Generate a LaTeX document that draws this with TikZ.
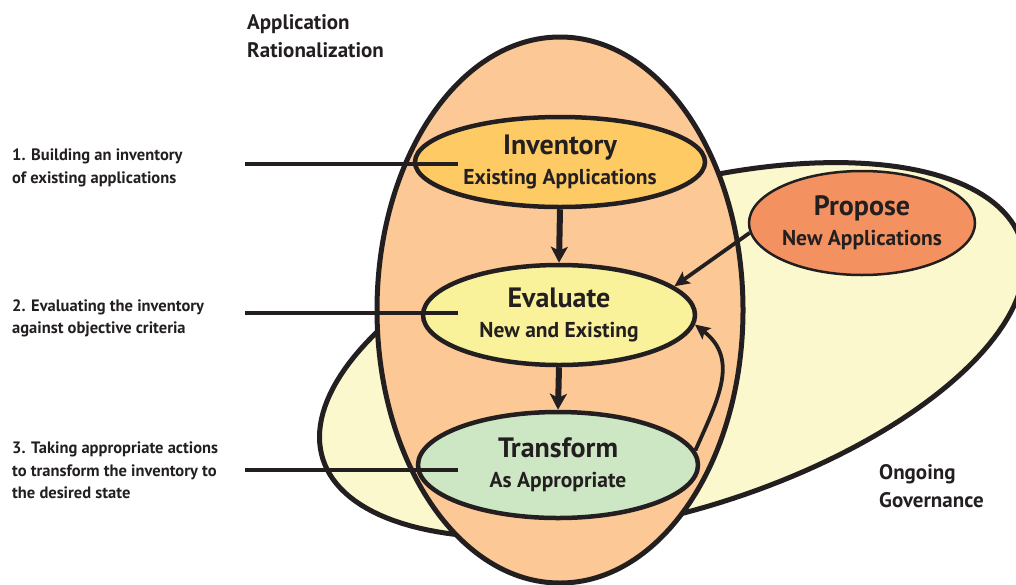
\documentclass[tikz,border=0pt]{standalone}
\usepackage{fontspec}
\setmainfont{PT Sans}
\usetikzlibrary{shapes.geometric,arrows.meta}
\definecolor{linec}{RGB}{35,31,32}
\definecolor{textc}{RGB}{35,31,32}
\definecolor{ratfill}{RGB}{252,201,150}
\definecolor{govfill}{RGB}{251,248,206}
\definecolor{invfill}{RGB}{253,202,100}
\definecolor{evalfill}{RGB}{249,242,155}
\definecolor{transfill}{RGB}{205,230,195}
\definecolor{propfill}{RGB}{243,146,96}
\newcommand{\stagetitle}[1]{{\fontsize{28}{30}\selectfont #1}}
\begin{document}
\begin{tikzpicture}[x=1pt,y=-1pt,
  region/.style={draw=linec, line width=5pt, line join=round},
  stage/.style={ellipse, draw=linec, line width=4.5pt, inner sep=0pt, align=center,
    text=textc, font=\bfseries\fontsize{21.5}{30}\selectfont},
  side/.style={anchor=west, align=left, inner sep=0pt, text=textc,
    font=\bfseries\fontsize{16.5}{22.5}\selectfont},
  head/.style={anchor=west, align=left, inner sep=0pt, text=textc,
    font=\bfseries\fontsize{21}{28}\selectfont},
  leader/.style={draw=linec, line width=3.5pt},
  flow/.style={draw=linec, line width=6pt, -{Stealth[length=16pt,width=17pt,inset=4pt]}},
  thinflow/.style={draw=linec, line width=3.8pt, -{Stealth[length=15pt,width=14pt,inset=3pt]}}
]
\useasboundingbox (0,0) rectangle (1016,584);
% Ongoing governance region (oblique ellipse)
\draw[region, fill=govfill] plot[domain=0:360, samples=181, variable=\t]
  ({672+352.5*cos(\t)},{350-87*cos(\t)+166*sin(\t)}) -- cycle;
% Application rationalization region
\node[ellipse, region, fill=ratfill, inner sep=0pt, minimum width=366pt, minimum height=546pt] (rat) at (560,310) {};
% stages
\node[stage, fill=invfill, minimum width=290pt, minimum height=90pt] (inv) at (560,162)
  {\stagetitle{Inventory}\\Existing Applications};
\node[stage, fill=evalfill, minimum width=272pt, minimum height=100pt] (eval) at (559,315)
  {\stagetitle{Evaluate}\\New and Existing};
\node[stage, fill=transfill, minimum width=280pt, minimum height=106pt] (trans) at (558,465)
  {\stagetitle{Transform}\\As Appropriate};
\node[stage, fill=propfill, line width=2.5pt, minimum width=224pt, minimum height=104pt] (prop) at (862,223)
  {\stagetitle{Propose}\\New Applications};
% arrows
\draw[flow] (inv.south) -- (eval.north);
\draw[flow] (eval.south) -- (trans.north);
\draw[thinflow] (prop.185) -- (eval.14);
\draw[thinflow] (trans.6) .. controls +(22,-50) and +(45,35) .. (eval.-4);
% side labels and leaders
\node[side] (s1) at (12,168) {1. Building an inventory\\of existing applications};
\node[side] (s2) at (12,318.5) {2. Evaluating the inventory\\against objective criteria};
\node[side] (s3) at (12,470.5) {3. Taking appropriate actions\\to transform the inventory to\\the desired state};
\coordinate (l1s) at (245,164); \coordinate (l1e) at (458,164);
\coordinate (l2s) at (245,313); \coordinate (l2e) at (458,313);
\coordinate (l3s) at (245,470); \coordinate (l3e) at (458,470);
\draw[leader] (l1s) -- (l1e);
\draw[leader] (l2s) -- (l2e);
\draw[leader] (l3s) -- (l3e);
% region labels
\node[head] (ratlabel) at (247,36) {Application\\Rationalization};
\node[head] (govlabel) at (879,486) {Ongoing\\Governance};
\end{tikzpicture}
\end{document}
